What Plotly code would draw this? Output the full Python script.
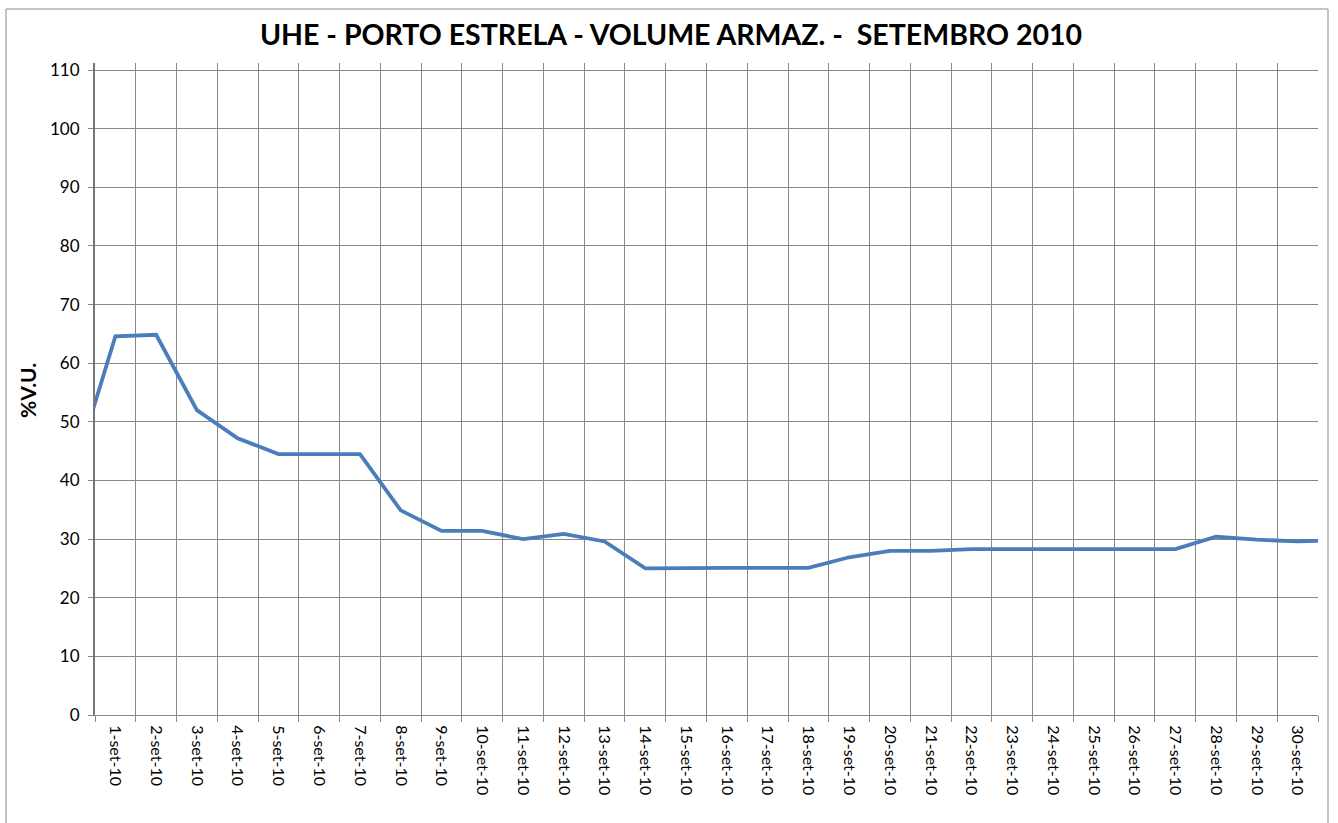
import plotly.graph_objects as go

# Data. First and last entries lie just outside the visible range.
dates = ["31-ago-10"] + [f"{d}-set-10" for d in range(1, 31)] + ["1-out-10"]
volume = [41.8,
          64.6, 64.85, 52.0, 47.2, 44.5, 44.5, 44.5, 34.9, 31.4, 31.4,
          30.0, 30.9, 29.6, 25.0, 25.1, 25.1, 25.1, 25.1, 26.9, 28.0,
          28.0, 28.3, 28.3, 28.3, 28.3, 28.3, 28.3, 30.4, 29.9, 29.6,
          29.8]
y_ticks = list(range(0, 111, 10))

W, H = 1338, 823
ML, MR, MT, MB = 95, 20, 63, 108
pw, ph = W - ML - MR, H - MT - MB

FONT = "Lato, 'Liberation Sans', Arial, sans-serif"
GRID = "#878787"

fig = go.Figure()
fig.add_trace(go.Scatter(
    x=dates, y=volume, mode="lines",
    line=dict(color="#4a7ebb", width=3.8),
    cliponaxis=True, showlegend=False,
))

fig.update_layout(
    width=W, height=H,
    margin=dict(l=ML, r=MR, t=MT, b=MB),
    paper_bgcolor="white", plot_bgcolor="white",
    font=dict(family=FONT, color="black", size=16),
    title=dict(
        text="<b>UHE - PORTO ESTRELA - VOLUME ARMAZ. -\u00a0 SETEMBRO 2010</b>",
        x=671 / W, xref="container", xanchor="center",
        y=1 - 35 / H, yref="container", yanchor="middle",
        font=dict(family=FONT, size=28.5, color="black"),
    ),
    xaxis=dict(
        type="category",
        categoryorder="array", categoryarray=dates,
        range=[0.5, 30.5],
        tickson="boundaries",
        ticks="outside", ticklen=6, tickcolor=GRID, tickwidth=1,
        tickangle=90,
        tickfont=dict(size=16, family=FONT),
        showgrid=True, gridcolor=GRID, gridwidth=1,
        showline=True, linecolor=GRID, linewidth=1,
        ticklabelstandoff=6,
        zeroline=False,
    ),
    yaxis=dict(
        range=[0, 111.2],
        tickmode="array", tickvals=y_ticks, ticktext=[str(v) for v in y_ticks],
        ticks="outside", ticklen=5, tickcolor=GRID, tickwidth=1,
        tickfont=dict(size=17, family=FONT),
        showgrid=True, gridcolor=GRID, gridwidth=1,
        showline=True, linecolor="#777777", linewidth=2,
        zeroline=False,
        ticklabelstandoff=5,
    ),
    annotations=[dict(
        text="<b>%V.U.</b>", textangle=-90,
        xref="paper", yref="paper",
        x=(27 - ML) / pw, y=(H - MB - 391) / ph,
        xanchor="center", yanchor="middle", showarrow=False,
        font=dict(family=FONT, size=21, color="black"),
    )],
    shapes=[dict(
        type="rect", xref="paper", yref="paper",
        x0=(6 - ML) / pw, x1=(1328 - ML) / pw,
        y0=(H - MB - 840) / ph, y1=(H - MB - 9) / ph,
        line=dict(color="#8a8a8a", width=1), fillcolor="rgba(0,0,0,0)",
        layer="below",
    )],
)

fig.write_html(
    "out.html",
    config={"displayModeBar": False},
    post_script="document.body.style.margin='0';document.body.style.overflow='hidden';",
)
